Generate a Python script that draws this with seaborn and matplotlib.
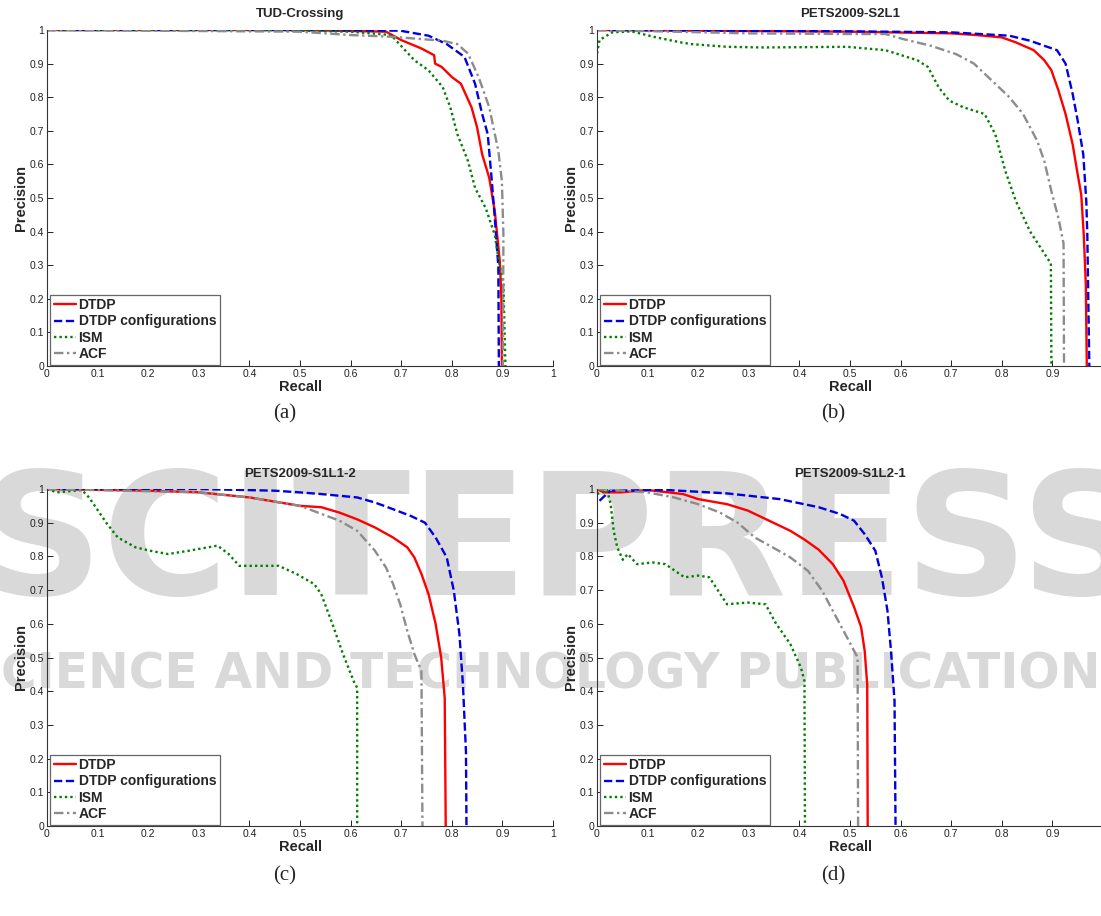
import numpy as np
import pandas as pd
import matplotlib
matplotlib.use('Agg')
import matplotlib.pyplot as plt
import seaborn as sns

# ---- datos (recall, precision) ----
titles = ['TUD-Crossing', 'PETS2009-S2L1', 'PETS2009-S1L1-2', 'PETS2009-S1L2-1']
captions = ['(a)', '(b)', '(c)', '(d)']
methods = ['DTDP', 'DTDP configurations', 'ISM', 'ACF']
ticks = [0, 0.1, 0.2, 0.3, 0.4, 0.5, 0.6, 0.7, 0.8, 0.9, 1]
tick_labels = ['0', '0.1', '0.2', '0.3', '0.4', '0.5', '0.6', '0.7', '0.8', '0.9', '1']

# (a) TUD-Crossing
tud_dtdp_r = [0, 0.5, 0.67, 0.70, 0.74, 0.765, 0.767, 0.78, 0.80, 0.818, 0.83, 0.839, 0.85, 0.86, 0.874, 0.885, 0.895, 0.898, 0.899]
tud_dtdp_p = [1, 1, 0.995, 0.97, 0.945, 0.925, 0.90, 0.89, 0.86, 0.84, 0.80, 0.77, 0.71, 0.63, 0.56, 0.46, 0.31, 0.20, 0]
tud_conf_r = [0, 0.5, 0.698, 0.754, 0.79, 0.825, 0.846, 0.86, 0.871, 0.878, 0.885, 0.892, 0.893]
tud_conf_p = [1, 1, 0.998, 0.983, 0.958, 0.92, 0.84, 0.75, 0.69, 0.57, 0.44, 0.295, 0]
tud_ism_r = [0, 0.43, 0.6, 0.68, 0.726, 0.754, 0.782, 0.797, 0.811, 0.832, 0.846, 0.867, 0.885, 0.895, 0.902, 0.906]
tud_ism_p = [1, 1, 0.995, 0.985, 0.91, 0.88, 0.83, 0.77, 0.69, 0.61, 0.53, 0.47, 0.39, 0.295, 0.245, 0]
tud_acf_r = [0, 0.5, 0.6, 0.68, 0.782, 0.811, 0.832, 0.853, 0.874, 0.885, 0.892, 0.899, 0.902, 0.901]
tud_acf_p = [1, 0.995, 0.985, 0.98, 0.968, 0.958, 0.93, 0.86, 0.77, 0.69, 0.64, 0.55, 0.39, 0]

# (b) PETS2009-S2L1
s2l1_dtdp_r = [0, 0.5, 0.7, 0.75, 0.80, 0.828, 0.863, 0.884, 0.898, 0.912, 0.926, 0.94, 0.95, 0.957, 0.962, 0.966, 0.968]
s2l1_dtdp_p = [1, 0.995, 0.99, 0.985, 0.978, 0.963, 0.94, 0.91, 0.88, 0.82, 0.75, 0.66, 0.57, 0.51, 0.39, 0.245, 0]
s2l1_conf_r = [0, 0.5, 0.7, 0.815, 0.856, 0.884, 0.909, 0.926, 0.94, 0.95, 0.961, 0.967, 0.969, 0.973]
s2l1_conf_p = [1, 0.996, 0.993, 0.983, 0.968, 0.953, 0.94, 0.90, 0.81, 0.73, 0.63, 0.49, 0.39, 0]
s2l1_ism_r = [0, 0.005, 0.03, 0.068, 0.117, 0.166, 0.187, 0.257, 0.326, 0.494, 0.57, 0.633, 0.654, 0.675, 0.696, 0.724, 0.766,
              0.787, 0.807, 0.828, 0.856, 0.884, 0.897, 0.898]
s2l1_ism_p = [0.93, 0.97, 0.993, 0.996, 0.978, 0.963, 0.958, 0.95, 0.948, 0.95, 0.94, 0.91, 0.89, 0.83, 0.79, 0.77, 0.75,
              0.69, 0.58, 0.49, 0.40, 0.335, 0.305, 0]
s2l1_acf_r = [0, 0.3, 0.5, 0.57, 0.605, 0.66, 0.71, 0.745, 0.78, 0.815, 0.842, 0.87, 0.884, 0.898, 0.912, 0.922, 0.923]
s2l1_acf_p = [1, 0.99, 0.988, 0.988, 0.973, 0.953, 0.928, 0.90, 0.85, 0.80, 0.75, 0.67, 0.61, 0.52, 0.44, 0.365, 0]

# (c) PETS2009-S1L1-2
s1l1_dtdp_r = [0, 0.2, 0.3, 0.4, 0.5, 0.542, 0.578, 0.613, 0.648, 0.684, 0.712, 0.726, 0.74, 0.754, 0.768, 0.779, 0.786, 0.788]
s1l1_dtdp_p = [1, 0.995, 0.99, 0.975, 0.95, 0.946, 0.93, 0.91, 0.886, 0.856, 0.827, 0.797, 0.748, 0.688, 0.60, 0.50, 0.38, 0]
s1l1_conf_r = [0, 0.3, 0.45, 0.5, 0.542, 0.613, 0.648, 0.684, 0.719, 0.747, 0.768, 0.79, 0.804, 0.815, 0.822, 0.828, 0.829]
s1l1_conf_p = [1, 1, 0.995, 0.99, 0.985, 0.975, 0.96, 0.94, 0.92, 0.90, 0.856, 0.797, 0.698, 0.57, 0.42, 0.22, 0]
s1l1_ism_r = [0, 0.02, 0.069, 0.083, 0.119, 0.14, 0.175, 0.203, 0.239, 0.281, 0.337, 0.359, 0.38, 0.458, 0.493, 0.528,
              0.542, 0.564, 0.585, 0.606, 0.613, 0.613]
s1l1_ism_p = [1, 0.99, 0.997, 0.975, 0.896, 0.856, 0.827, 0.817, 0.807, 0.817, 0.832, 0.807, 0.772, 0.772, 0.748, 0.718,
              0.688, 0.60, 0.51, 0.43, 0.41, 0]
s1l1_acf_r = [0, 0.3, 0.4, 0.5, 0.578, 0.613, 0.648, 0.67, 0.684, 0.698, 0.712, 0.726, 0.74, 0.742]
s1l1_acf_p = [1, 0.99, 0.975, 0.95, 0.906, 0.876, 0.817, 0.767, 0.718, 0.658, 0.579, 0.51, 0.46, 0]

# (d) PETS2009-S1L2-1
s1l2_dtdp_r = [0, 0.013, 0.047, 0.1, 0.17, 0.2, 0.257, 0.298, 0.34, 0.382, 0.41, 0.438, 0.466, 0.487, 0.508, 0.522, 0.529, 0.534, 0.535]
s1l2_dtdp_p = [1, 0.99, 0.99, 0.997, 0.985, 0.97, 0.955, 0.936, 0.906, 0.876, 0.85, 0.82, 0.777, 0.728, 0.65, 0.59, 0.52, 0.42, 0]
s1l2_conf_r = [0.005, 0.026, 0.138, 0.257, 0.361, 0.438, 0.48, 0.508, 0.529, 0.55, 0.563, 0.574, 0.581, 0.588, 0.59]
s1l2_conf_p = [0.965, 0.995, 0.997, 0.987, 0.97, 0.946, 0.926, 0.906, 0.866, 0.817, 0.738, 0.639, 0.52, 0.371, 0]
s1l2_ism_r = [0, 0.02, 0.027, 0.033, 0.04, 0.051, 0.061, 0.079, 0.11, 0.135, 0.173, 0.2, 0.222, 0.257, 0.298, 0.333,
              0.354, 0.382, 0.403, 0.41, 0.411]
s1l2_ism_p = [0.985, 0.997, 0.955, 0.876, 0.827, 0.79, 0.807, 0.777, 0.782, 0.777, 0.738, 0.743, 0.738, 0.658, 0.663, 0.658,
              0.60, 0.54, 0.47, 0.43, 0]
s1l2_acf_r = [0, 0.05, 0.1, 0.152, 0.2, 0.243, 0.278, 0.312, 0.347, 0.382, 0.417, 0.445, 0.473, 0.494, 0.515, 0.516]
s1l2_acf_p = [1, 0.995, 0.99, 0.975, 0.955, 0.93, 0.90, 0.856, 0.827, 0.797, 0.757, 0.698, 0.619, 0.56, 0.50, 0]

curvas = [
    [(tud_dtdp_r, tud_dtdp_p), (tud_conf_r, tud_conf_p), (tud_ism_r, tud_ism_p), (tud_acf_r, tud_acf_p)],
    [(s2l1_dtdp_r, s2l1_dtdp_p), (s2l1_conf_r, s2l1_conf_p), (s2l1_ism_r, s2l1_ism_p), (s2l1_acf_r, s2l1_acf_p)],
    [(s1l1_dtdp_r, s1l1_dtdp_p), (s1l1_conf_r, s1l1_conf_p), (s1l1_ism_r, s1l1_ism_p), (s1l1_acf_r, s1l1_acf_p)],
    [(s1l2_dtdp_r, s1l2_dtdp_p), (s1l2_conf_r, s1l2_conf_p), (s1l2_ism_r, s1l2_ism_p), (s1l2_acf_r, s1l2_acf_p)],
]

colores = ['#ff0000', '#0000e0', '#007f00', '#8c8c8c']
estilos = ['-', (0, (3.5, 1.5)), (0, (1, 1.3)), (0, (4, 1.5, 1, 1.5))]

# ---- figura ----
sns.set_style('ticks')
plt.rcParams['font.family'] = ['Liberation Sans', 'DejaVu Sans']

fig = plt.figure(figsize=(11.01, 9.16), dpi=100)

# marca de agua de fondo (detras de los ejes)
fig.text(0.51, 0.402, 'SCITEPRESS', fontsize=124, fontweight='bold', color='#d9d9d9',
         ha='center', va='center', family='DejaVu Sans', zorder=-5)
fig.text(0.5, 0.264, 'SCIENCE AND TECHNOLOGY PUBLICATIONS', fontsize=35, fontweight='bold',
         color='#d9d9d9', ha='center', va='center', family='DejaVu Sans', zorder=-5)

posiciones = [
    [47 / 1101, 1 - 366 / 916, 506 / 1101, 336 / 916],
    [597 / 1101, 1 - 366 / 916, 506 / 1101, 336 / 916],
    [47 / 1101, 1 - 826 / 916, 506 / 1101, 337 / 916],
    [597 / 1101, 1 - 826 / 916, 506 / 1101, 337 / 916],
]
caption_pos = [(285 / 1101, 1 - 414 / 916), (833 / 1101, 1 - 414 / 916),
               (285 / 1101, 1 - 876 / 916), (833 / 1101, 1 - 876 / 916)]

for i in range(4):
    ax = fig.add_axes(posiciones[i])
    ax.patch.set_alpha(0)
    for j in range(4):
        r, p = curvas[i][j]
        sns.lineplot(x=r, y=p, ax=ax, sort=False, estimator=None, color=colores[j],
                     linestyle=estilos[j], linewidth=1.7, label=methods[j])
    ax.set_xlim(0, 1)
    ax.set_ylim(0, 1)
    ax.set_xticks(ticks)
    ax.set_xticklabels(tick_labels)
    ax.set_yticks(ticks)
    ax.set_yticklabels(tick_labels)
    ax.tick_params(direction='in', length=4, width=0.7, labelsize=7.5, pad=2, colors='#222222')
    sns.despine(ax=ax)
    for s in ['left', 'bottom']:
        ax.spines[s].set_linewidth(0.8)
        ax.spines[s].set_color('#333333')
    ax.set_xlabel('Recall', fontsize=10.5, fontweight='bold', labelpad=1)
    ax.set_ylabel('Precision', fontsize=10.5, fontweight='bold', labelpad=1)
    ax.set_title(titles[i], fontsize=9.5, fontweight='bold', pad=9)
    leg = ax.legend(loc='lower left', bbox_to_anchor=(0.006, 0.004), fancybox=False, framealpha=1,
                    edgecolor='#666666', handlelength=1.6, handletextpad=0.2, borderpad=0.25,
                    labelspacing=0.17, borderaxespad=0, prop={'size': 10, 'weight': 'bold'})
    leg.get_frame().set_linewidth(0.9)
    fig.text(caption_pos[i][0], caption_pos[i][1], captions[i], fontsize=15,
             family='Liberation Serif', ha='center', va='center')

fig.savefig('out.png', dpi=100)
